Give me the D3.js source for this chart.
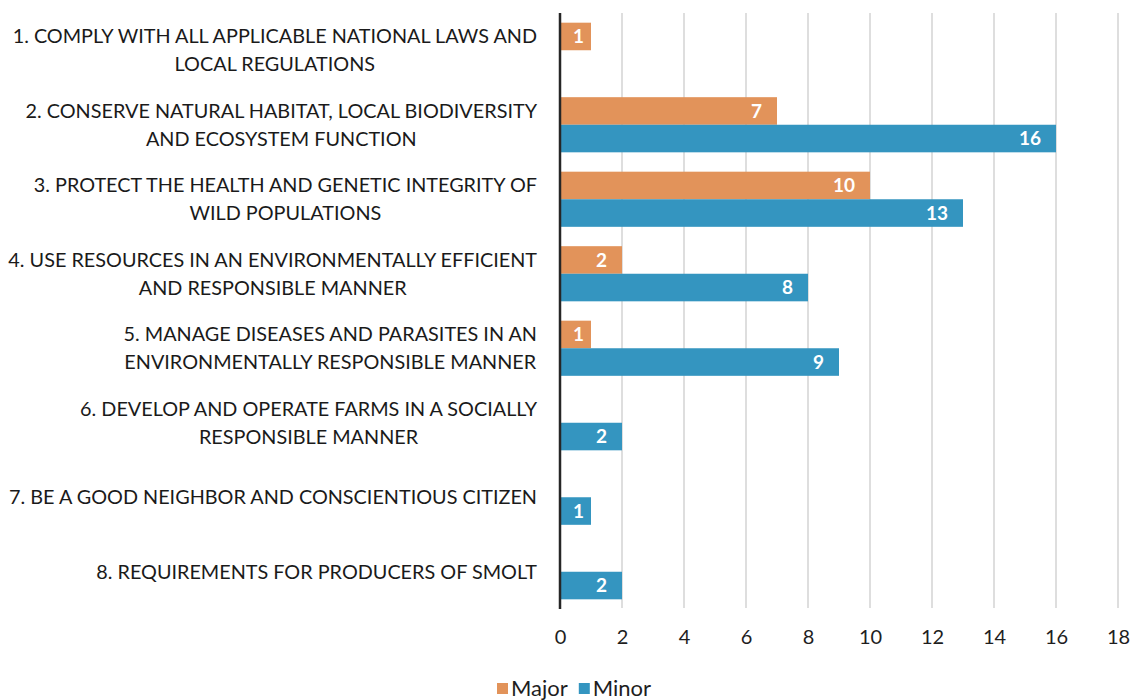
<!DOCTYPE html>
<html>
<head>
<meta charset="utf-8">
<script src="https://cdn.jsdelivr.net/npm/d3@7"></script>
<style>
  html, body { margin: 0; padding: 0; background: #fff; }
  svg { display: block; }
  text { font-family: Lato, "Open Sans", sans-serif; }
</style>
</head>
<body>
<svg id="chart" width="1137" height="700"></svg>
<script>
// ---- data ----
const categories = [
  "1. COMPLY WITH ALL APPLICABLE NATIONAL LAWS AND\nLOCAL REGULATIONS",
  "2. CONSERVE NATURAL HABITAT, LOCAL BIODIVERSITY\nAND ECOSYSTEM FUNCTION",
  "3. PROTECT THE HEALTH AND GENETIC INTEGRITY OF\nWILD POPULATIONS",
  "4. USE RESOURCES IN AN ENVIRONMENTALLY EFFICIENT\nAND RESPONSIBLE MANNER",
  "5. MANAGE DISEASES AND PARASITES IN AN\nENVIRONMENTALLY RESPONSIBLE MANNER",
  "6. DEVELOP AND OPERATE FARMS IN A SOCIALLY\nRESPONSIBLE MANNER",
  "7. BE A GOOD NEIGHBOR AND CONSCIENTIOUS CITIZEN",
  "8. REQUIREMENTS FOR PRODUCERS OF SMOLT"
];
const seriesNames = ["Major", "Minor"];
const majorValues = [1, 7, 10, 2, 1, null, null, null];
const minorValues = [null, 16, 13, 8, 9, 2, 1, 2];
const xTicks = [0, 2, 4, 6, 8, 10, 12, 14, 16, 18];
const colors = { Major: "#E2935A", Minor: "#3495C0" };

// ---- layout ----
const svg = d3.select("#chart");
const plotLeft = 560, plotRight = 1118, plotTop = 13, plotBottom = 609;
const labelRight = 537;

const x = d3.scaleLinear().domain([0, 18]).range([plotLeft, plotRight]);
const y = d3.scaleBand().domain(categories).range([plotTop, plotBottom])
  .paddingInner(0.26).paddingOuter(0.13);
const ySub = d3.scaleBand().domain(seriesNames).range([0, y.bandwidth()]);

// gridlines
svg.append("g").selectAll("line").data(xTicks.filter(d => d > 0)).join("line")
  .attr("x1", d => x(d)).attr("x2", d => x(d))
  .attr("y1", plotTop).attr("y2", plotBottom - 1)
  .attr("stroke", "#c8c8c8").attr("stroke-width", 1.2);

// x axis tick labels
const xAxis = d3.axisBottom(x).tickValues(xTicks).tickSize(0).tickPadding(0);
const gx = svg.append("g").attr("transform", `translate(0,${plotBottom + 21})`).call(xAxis);
gx.select(".domain").remove();
gx.selectAll("text").attr("font-size", 20).attr("fill", "#1e1e1e")
  .style("font-family", "Lato, 'Open Sans', sans-serif");

// bars
const rows = categories.map((c, i) => ({ cat: c, Major: majorValues[i], Minor: minorValues[i] }));
const barData = [];
rows.forEach(r => seriesNames.forEach(s => { if (r[s] != null) barData.push({ cat: r.cat, s, v: r[s] }); }));

svg.append("g").selectAll("rect").data(barData).join("rect")
  .attr("x", x(0))
  .attr("y", d => y(d.cat) + ySub(d.s))
  .attr("width", d => x(d.v) - x(0))
  .attr("height", ySub.bandwidth())
  .attr("fill", d => colors[d.s]);

// data labels
svg.append("g").selectAll("text").data(barData).join("text")
  .attr("x", d => (x(d.v) - x(0) < 40) ? (x(0) + x(d.v)) / 2 + 3 : x(d.v) - 15)
  .attr("text-anchor", d => (x(d.v) - x(0) < 40) ? "middle" : "end")
  .attr("y", d => y(d.cat) + ySub(d.s) + ySub.bandwidth() / 2)
  .attr("dy", "0.36em")
  .attr("font-size", 19).attr("font-weight", "bold").attr("fill", "#fff")
  .text(d => d.v);

// axis line at zero
svg.append("line")
  .attr("x1", x(0)).attr("x2", x(0)).attr("y1", plotTop).attr("y2", plotBottom)
  .attr("stroke", "#262626").attr("stroke-width", 2.5);

// category labels
const labG = svg.append("g");
const measure = svg.append("text").attr("font-size", 20).attr("visibility", "hidden");
let maxW = 0;
categories.forEach(c => c.split("\n").forEach(l => {
  measure.text(l); maxW = Math.max(maxW, measure.node().getComputedTextLength());
}));
const labelFont = 20 * 529 / maxW;
measure.attr("font-size", labelFont);
const lineH = 28;
categories.forEach(c => {
  const lines = c.split("\n");
  const widths = lines.map(l => { measure.text(l); return measure.node().getComputedTextLength(); });
  const bw = d3.max(widths);
  const cx = labelRight - bw / 2;
  const cy = y(c) + y.bandwidth() / 2;
  lines.forEach((l, i) => {
    labG.append("text")
      .attr("x", cx).attr("text-anchor", "middle")
      .attr("y", cy + (i - (lines.length - 1) / 2) * lineH)
      .attr("dy", "0.36em")
      .attr("font-size", labelFont).attr("fill", "#1a1a1a")
      .text(l);
  });
});
measure.remove();

// legend
const leg = svg.append("g");
const legFont = 22;
let lx = 497;
seriesNames.forEach(s => {
  leg.append("rect").attr("x", lx).attr("y", 683).attr("width", 11).attr("height", 11)
    .attr("fill", colors[s]);
  const t = leg.append("text").attr("x", lx + 14).attr("y", 696)
    .attr("font-size", legFont).attr("fill", "#1e1e1e").text(s);
  lx += 14 + t.node().getComputedTextLength() + 11;
});
</script>
</body>
</html>
